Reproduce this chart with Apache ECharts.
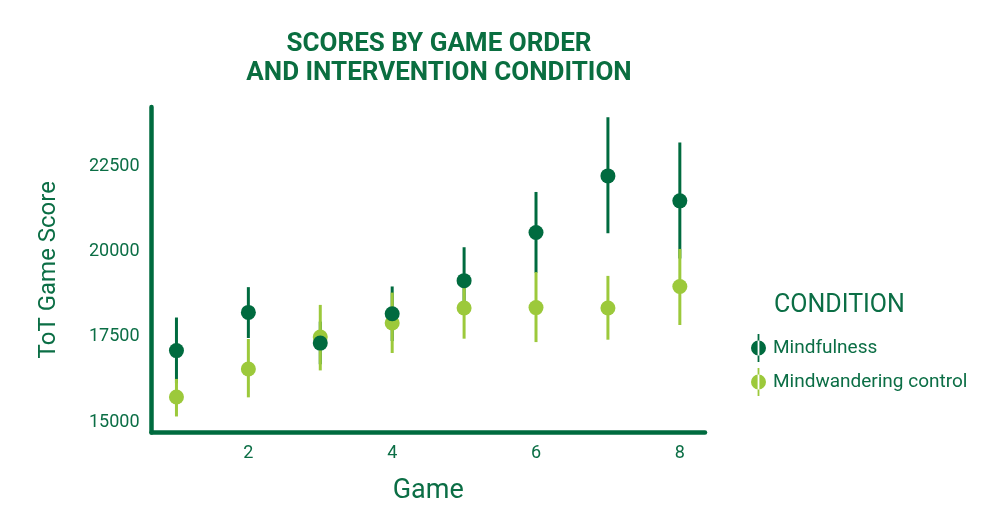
<!DOCTYPE html>
<html><head><meta charset="utf-8">
<script src="https://cdn.jsdelivr.net/npm/echarts@6/dist/echarts.min.js"></script>
<style>html,body{margin:0;padding:0;background:#fff}#c{width:1000px;height:527px}</style>
</head><body><div id="c"></div>
<script>
const games=[1,2,3,4,5,6,7,8];
const mindMean=[17100,18220,17320,18180,19150,20560,22220,21490];
const mindLow=[16140,17470,16700,17380,18160,19380,20540,19800];
const mindHigh=[18070,18960,17950,18980,20130,21750,23940,23200];
const ctrlMean=[15740,16560,17500,17910,18350,18360,18350,18980];
const ctrlLow=[15170,15730,16520,17030,17450,17350,17420,17850];
const ctrlHigh=[16270,17440,18440,18800,19250,19400,19290,20080];
const xTicks=[2,4,6,8];
const yTicks=[15000,17500,20000,22500];
const seriesNames=['Mindfulness','Mindwandering control'];

const DARK='#006b3f', LIGHT='#9cc93b', TEXT='#0b6e45';
const FONT='Roboto, "Liberation Sans", sans-serif';
const icon='path://M6.6 0H8.4V28H6.6Z M0 14A7.5 7.5 0 1 0 15 14A7.5 7.5 0 1 0 0 14Z';

function errItem(color){
  return function(params, api){
    const x=api.value(0), lo=api.value(1), hi=api.value(2);
    const p1=api.coord([x,lo]), p2=api.coord([x,hi]);
    return {type:'line', shape:{x1:p1[0],y1:p1[1],x2:p2[0],y2:p2[1]}, style:{stroke:color, lineWidth:3}};
  };
}
const zip3=(a,b,c)=>games.map((g,i)=>[g,a[i],b[i]]);

const chart=echarts.init(document.getElementById('c'),null,{renderer:'canvas'});
chart.setOption({
  animation:false,
  backgroundColor:'#fff',
  title:[
    {text:'SCORES BY GAME ORDER\nAND INTERVENTION CONDITION', left:434, top:25, textAlign:'center',
     textStyle:{color:'#0a6e40', fontFamily:FONT, fontWeight:'bold', fontSize:26, lineHeight:29}},
    {text:'CONDITION', left:769, top:288,
     textStyle:{color:TEXT, fontFamily:FONT, fontWeight:'normal', fontSize:25}}
  ],
  legend:{
    orient:'vertical', left:746, top:329, itemGap:6, itemWidth:15, itemHeight:28,
    data:seriesNames.map(n=>({name:n, icon:icon})),
    textStyle:{color:TEXT, fontFamily:FONT, fontSize:19, padding:[0,0,0,2]}
  },
  grid:{left:151.5, right:295, top:107, bottom:94.5, containLabel:false},
  xAxis:{type:'value', min:0.653, max:8.35,
    name:'Game', nameLocation:'middle', nameGap:45,
    nameTextStyle:{color:TEXT, fontFamily:FONT, fontSize:27},
    axisLine:{show:true, onZero:false, lineStyle:{color:DARK, width:4.5}},
    axisTick:{show:false}, splitLine:{show:false},
    axisLabel:{customValues:xTicks, color:TEXT, fontFamily:FONT, fontSize:18, margin:12}
  },
  yAxis:{type:'value', min:14700, max:24240,
    name:'ToT Game Score', nameLocation:'middle', nameGap:91,
    nameTextStyle:{color:TEXT, fontFamily:FONT, fontSize:24},
    axisLine:{show:true, onZero:false, lineStyle:{color:DARK, width:4.5}},
    axisTick:{show:false}, splitLine:{show:false},
    axisLabel:{customValues:yTicks, formatter:v=>String(v), color:TEXT, fontFamily:FONT, fontSize:18, margin:12}
  },
  series:[
    {type:'custom', name:'Mindfulness CI', z:2, silent:true, renderItem:errItem(DARK),
     encode:{x:0,y:[1,2]}, data:zip3(mindLow,mindHigh,mindMean)},
    {type:'custom', name:'Mindwandering CI', z:3, silent:true, renderItem:errItem(LIGHT),
     encode:{x:0,y:[1,2]}, data:zip3(ctrlLow,ctrlHigh,ctrlMean)},
    {type:'scatter', name:seriesNames[1], z:4, symbolSize:15, itemStyle:{color:LIGHT, opacity:1},
     data:games.map((g,i)=>[g,ctrlMean[i]])},
    {type:'scatter', name:seriesNames[0], z:5, symbolSize:15, itemStyle:{color:DARK, opacity:1},
     data:games.map((g,i)=>[g,mindMean[i]])}
  ]
});
</script></body></html>
